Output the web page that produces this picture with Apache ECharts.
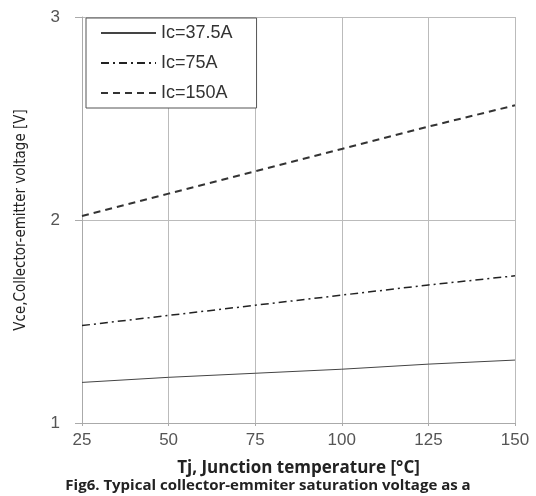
<!DOCTYPE html>
<html>
<head>
<meta charset="utf-8">
<script src="https://cdn.jsdelivr.net/npm/echarts@6/dist/echarts.min.js"></script>
<style>
  html, body { margin: 0; padding: 0; background: #fff; }
  #chart { width: 536px; height: 496px; }
</style>
</head>
<body>
<div id="chart"></div>
<script>
// junction temperature, deg C
const tj = [25, 50, 75, 100, 125, 150];
// Vce(sat)
const vce37 = [1.20, 1.225, 1.245, 1.265, 1.29, 1.31];
const vce75 = [1.48, 1.53, 1.58, 1.63, 1.68, 1.725];
const vce150 = [2.02, 2.13, 2.24, 2.35, 2.46, 2.565];
const names = ['Ic=37.5A', 'Ic=75A', 'Ic=150A'];

const pairs = vals => tj.map((t, i) => [t, vals[i]]);

let chart = echarts.init(document.getElementById('chart'));
let option = {
  animation: false,
  grid: { left: 82, right: 21, top: 17, bottom: 73 },
  legend: {
    data: names,
    orient: 'vertical',
    left: 86, top: 18,
    padding: [6, 24, 6, 14],
    itemGap: 12,
    itemWidth: 55,
    itemHeight: 14,
    backgroundColor: '#fff',
    borderColor: '#555',
    borderWidth: 1,
    itemStyle: { opacity: 0 },
    textStyle: { fontSize: 18, color: '#333', fontFamily: 'Liberation Sans, Arial, sans-serif' }
  },
  xAxis: {
    type: 'value', min: 25, max: 150, interval: 25,
    name: 'Tj, Junction temperature [\u00b0C]',
    nameLocation: 'middle', nameGap: 37,
    nameTextStyle: { fontSize: 17, fontWeight: 'bold', color: '#222', fontFamily: 'Open Sans, sans-serif' },
    axisLine: { lineStyle: { color: '#aaa' } },
    axisTick: { show: true, length: 3, lineStyle: { color: '#aaa' } },
    axisLabel: { fontSize: 17, color: '#555', margin: 9, fontFamily: 'Liberation Sans, Arial, sans-serif' },
    splitLine: { show: true, lineStyle: { color: '#bbb' } }
  },
  yAxis: {
    type: 'value', min: 1, max: 3, interval: 1,
    name: 'Vce,Collector-emitter voltage [V]',
    nameLocation: 'middle', nameGap: 53,
    nameTextStyle: { fontSize: 15, color: '#222', fontFamily: 'DejaVu Sans Condensed, Liberation Sans Narrow, sans-serif' },
    axisLine: { show: true, lineStyle: { color: '#aaa' } },
    axisTick: { show: true, length: 7, lineStyle: { color: '#aaa' } },
    axisLabel: { fontSize: 17, color: '#555', margin: 22, fontFamily: 'Liberation Sans, Arial, sans-serif' },
    splitLine: { show: true, lineStyle: { color: '#bbb' } }
  },
  graphic: [{
    type: 'text', left: 'center', top: 478,
    style: {
      text: 'Fig6. Typical collector-emmiter saturation voltage as a',
      font: 'bold 15px "Open Sans", sans-serif', fill: '#222'
    }
  }],
  series: [
    {
      name: names[0], type: 'line', symbol: 'none', data: pairs(vce37),
      lineStyle: { color: '#444', width: 1, type: 'solid' }, itemStyle: { color: '#444' }
    },
    {
      name: names[1], type: 'line', symbol: 'none', data: pairs(vce75),
      lineStyle: { color: '#222', width: 1.5, type: [8, 4, 2, 4] }, itemStyle: { color: '#222' }
    },
    {
      name: names[2], type: 'line', symbol: 'none', data: pairs(vce150),
      lineStyle: { color: '#333', width: 2, type: [7, 5] }, itemStyle: { color: '#333' }
    }
  ]
};
option && chart.setOption(option);
</script>
</body>
</html>
